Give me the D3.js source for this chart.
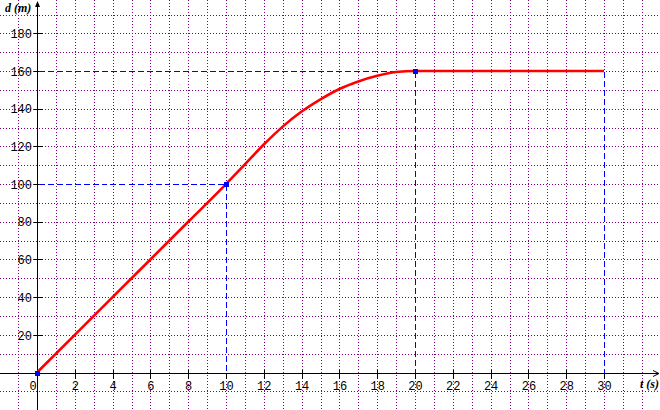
<!DOCTYPE html>
<html>
<head>
<meta charset="utf-8">
<script src="https://cdn.jsdelivr.net/npm/d3@7"></script>
<style>
  html, body { margin: 0; padding: 0; background: #fff; }
  svg { display: block; }
  .tick-label { font-family: "Liberation Mono", "DejaVu Sans Mono", monospace; font-size: 12px; fill: #000; }
  .ax-label { font-family: "Liberation Serif", "DejaVu Serif", serif; font-size: 12px; font-weight: bold; font-style: italic; fill: #000; }
</style>
</head>
<body>
<script>
// ---- data ----
const tValues = [0, 2, 4, 6, 8, 10, 11, 12, 13, 14, 15, 16, 17, 18, 19, 20, 30];
const dValues = [0, 20, 40, 60, 80, 100, 110.5, 121, 130.5, 138.5, 145, 150.5, 154.5, 157.5, 159.5, 160, 160];
const markT = [0, 10, 20];
const markD = [0, 100, 160];
const guideT = [10, 20, 30];
const guideD = [100, 160, 160];
const xTicks = [0, 2, 4, 6, 8, 10, 12, 14, 16, 18, 20, 22, 24, 26, 28, 30];
const yTicks = [20, 40, 60, 80, 100, 120, 140, 160, 180];
const xGrid = d3.range(-1, 33);
const yGrid = [-10, 10, 20, 30, 40, 50, 60, 70, 80, 90, 100, 110, 120, 130, 140, 150, 160, 170, 180, 190];

const W = 660, H = 410;
const x = d3.scaleLinear().domain([-37 / 18.9, (660 - 37) / 18.9]).range([0, W]);
const y = d3.scaleLinear().domain([-(410 - 372.5) / 1.884, 372.5 / 1.884]).range([H, 0]);
const px = v => Math.round(x(v)) + 0.5;
const py = v => Math.round(y(v)) + 0.5;

const svg = d3.select("body").append("svg").attr("width", W).attr("height", H);

// grid
const grid = svg.append("g").attr("stroke", "#800080").attr("stroke-width", 1)
  .attr("stroke-dasharray", "1,2").attr("shape-rendering", "crispEdges");
grid.selectAll("line.gridv").data(xGrid.filter(t => t !== 0)).join("line").attr("class", "gridv")
  .attr("x1", d => px(d)).attr("x2", d => px(d)).attr("y1", 0).attr("y2", H);
grid.selectAll("line.gridh").data(yGrid).join("line").attr("class", "gridh")
  .attr("y1", d => py(d)).attr("y2", d => py(d)).attr("x1", 0).attr("x2", W);

// axes
const axes = svg.append("g").attr("stroke", "#000").attr("stroke-width", 1).attr("shape-rendering", "crispEdges");
axes.append("line").attr("x1", px(0)).attr("x2", px(0)).attr("y1", 2).attr("y2", H);
axes.append("line").attr("x1", 0).attr("x2", 658).attr("y1", py(0)).attr("y2", py(0));
axes.selectAll("line.xt").data(xTicks.filter(t => t !== 0)).join("line").attr("class", "xt")
  .attr("x1", d => px(d)).attr("x2", d => px(d)).attr("y1", py(0) - 4).attr("y2", py(0) + 5);
axes.selectAll("line.yt").data(yTicks).join("line").attr("class", "yt")
  .attr("y1", d => py(d)).attr("y2", d => py(d)).attr("x1", px(0) - 4).attr("x2", px(0) + 5);
// arrows
svg.append("path").attr("d", `M${px(0) - 2.5},7 L${px(0)},1 L${px(0) + 2.5},7 Z`).attr("fill", "#000");
svg.append("path").attr("d", `M653,${py(0) - 3} L659,${py(0)} L653,${py(0) + 3}`)
  .attr("fill", "none").attr("stroke", "#000").attr("stroke-width", 1);

// guides (blue dashed over a white underlay that hides the grid dots)
const vData = guideT.map((t, i) => [t, guideD[i]]);
const hData = markT.slice(1).map((t, i) => [t, markD[i + 1]]);
function drawGuides(g) {
  g.selectAll("line.gv").data(vData).join("line").attr("class", "gv")
    .attr("x1", d => px(d[0])).attr("x2", d => px(d[0]))
    .attr("y1", d => py(d[1])).attr("y2", py(0) - 1);
  g.selectAll("line.gh").data(hData).join("line").attr("class", "gh")
    .attr("x1", px(0) + 1).attr("x2", d => px(d[0]))
    .attr("y1", d => py(d[1])).attr("y2", d => py(d[1]));
}
svg.append("g").attr("stroke", "#ffffff").attr("stroke-width", 1)
  .attr("shape-rendering", "crispEdges").call(drawGuides);
svg.append("g").attr("stroke", "#0000ff").attr("stroke-width", 1)
  .attr("stroke-dasharray", "6,3").attr("shape-rendering", "crispEdges").call(drawGuides);

// tick labels via d3 axes
const xAxis = d3.axisBottom(x).tickValues(xTicks).tickSize(0).tickPadding(0).tickFormat(d3.format("d"));
const gx = svg.append("g").attr("transform", `translate(0,${py(0)})`).call(xAxis);
gx.select(".domain").remove();
gx.selectAll(".tick line").remove();
gx.selectAll("text").attr("class", "tick-label").attr("y", 16).attr("dy", 0)
  .attr("font-family", null).attr("font-size", null)
  .attr("dx", d => d === 0 ? -4.5 : 0);

const yAxis = d3.axisLeft(y).tickValues(yTicks).tickSize(0).tickPadding(0).tickFormat(d3.format("d"));
const gy = svg.append("g").attr("transform", `translate(${px(0)},0)`).call(yAxis);
gy.select(".domain").remove();
gy.selectAll(".tick line").remove();
gy.selectAll("text").attr("class", "tick-label").attr("x", -5.5).attr("dy", "0.35em")
  .attr("font-family", null).attr("font-size", null);

// axis titles
svg.append("text").attr("class", "ax-label").attr("x", 5).attr("y", 12).text("d (m)");
svg.append("text").attr("class", "ax-label").attr("x", 659).attr("y", 388).attr("text-anchor", "end").text("t (s)");

// curve
const line = d3.line().x(d => x(d[0])).y(d => y(d[1])).curve(d3.curveMonotoneX);
svg.append("path").datum(tValues.map((t, i) => [t, dValues[i]]))
  .attr("d", line).attr("fill", "none").attr("stroke", "#ff0000").attr("stroke-width", 2.6)
  .attr("stroke-linejoin", "round");

// markers
svg.selectAll("rect.mk").data(markT.map((t, i) => [t, markD[i]])).join("rect").attr("class", "mk")
  .attr("x", d => Math.round(x(d[0])) - 2).attr("y", d => Math.round(y(d[1])) - 2)
  .attr("width", 5).attr("height", 5).attr("fill", "#0000ff");
</script>
</body>
</html>
